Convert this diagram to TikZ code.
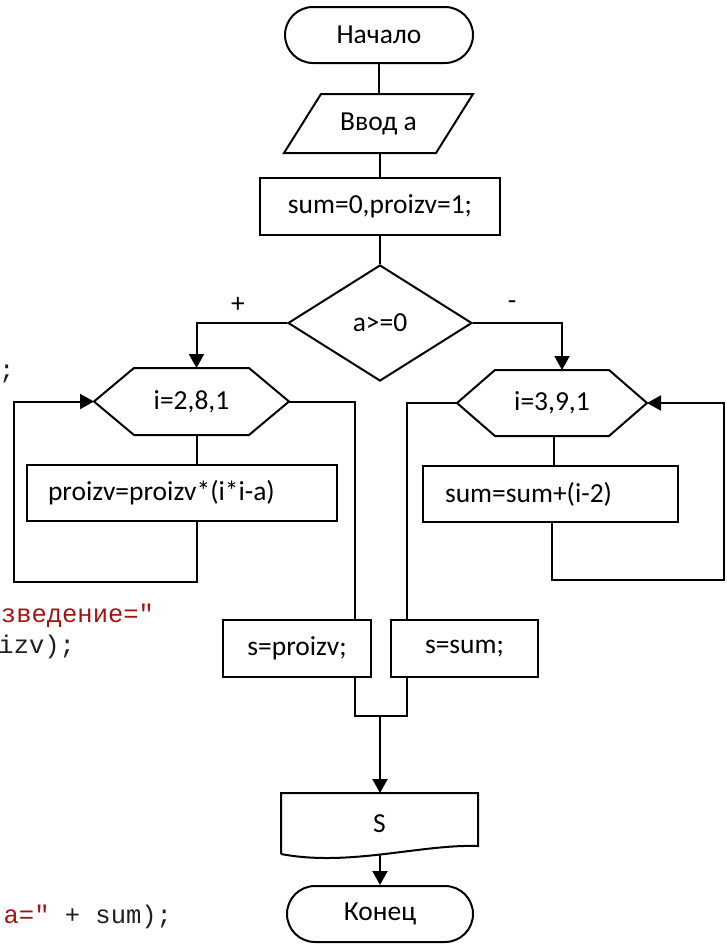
\documentclass[tikz,border=0pt]{standalone}
\usepackage{fontspec}
\setmainfont{Carlito}
\newfontfamily\codefont{Liberation Mono}
\usepackage{tikz}
\usetikzlibrary{shapes.geometric,shapes.misc}
\usetikzlibrary{arrows.meta}
\usepackage{xcolor}
\definecolor{strred}{RGB}{163,21,21}
\definecolor{codegray}{RGB}{30,30,30}

\tikzset{
  blk/.style={draw, rectangle, minimum height=57pt, inner sep=0pt},
  term/.style={draw, rounded rectangle, minimum width=188pt, minimum height=56pt, inner sep=0pt},
  decision/.style={draw, diamond, minimum width=184pt, minimum height=116pt, inner sep=0pt},
  bare/.style={rectangle, inner sep=0pt},
  code/.style={anchor=base east, inner sep=0pt, text=codegray, font=\codefont\fontsize{25.5}{30}\selectfont},
  arr/.style={-{Triangle[length=14pt,width=15pt]}}
}
% hexagon of a loop head round a bare node
\newcommand{\hexa}[2]{\draw (#1.west) -- ([xshift=#2]#1.north west) -- ([xshift=-#2]#1.north east)
  -- (#1.east) -- ([xshift=-#2]#1.south east) -- ([xshift=#2]#1.south west) -- cycle;}

\begin{document}
\begin{tikzpicture}[x=1pt, y=1pt, line width=2pt, font=\fontsize{27.5}{33}\selectfont]
    %\draw[step=50, gray, very thin] (0,0) grid (726,-945);
    \useasboundingbox (0,0) rectangle (726,-945);

    \node[term] (start) at (379,-35) {Начало};
    \node[bare, minimum width=187pt, minimum height=57pt] (input) at (378.5,-123.5) {Ввод а};
    \node[blk, minimum width=240pt] (init) at (380,-206.5) {sum=0,proizv=1;};
    \node[decision] (if) at (380,-323) {a>=0};
    \node (plus) at (238,-305) {+};
    \node (minus) at (512,-305) {-};

    \node[bare, minimum width=193pt, minimum height=65pt] (forL) at (191.5,-401.5) {i=2,8,1};
    \node[bare, minimum width=188pt, minimum height=64pt] (forR) at (552,-403) {i=3,9,1};
    \node[blk, minimum height=56pt, text width=268pt, inner xsep=21pt, align=left] (bodyL) at (182,-493) {proizv=proizv*(i*i-a)};
    \node[blk, minimum height=56pt, text width=211pt, inner xsep=22pt, align=left] (bodyR) at (550.5,-494) {sum=sum+(i-2)};

    \node[blk, minimum width=148pt] (setL) at (297,-648.5) {s=proizv;};
    \node[blk, minimum width=147pt] (setR) at (464.5,-648.5) {s=sum;};
    \node[bare, minimum width=195pt, minimum height=59pt] (out) at (379.5,-823.5) {S};
    \node[term, minimum width=186pt] (end) at (380,-914) {Конец};

    \coordinate (backL) at (14,-582);
    \coordinate (backR) at (724,-580);
    \coordinate (join) at (380,-716);

    % shapes drawn by hand
    \draw ([xshift=37pt]input.north west) -- (input.north east) -- ([xshift=-37pt]input.south east) -- (input.south west) -- cycle;
    \hexa{forL}{40pt}
    \hexa{forR}{38pt}
    \draw (out.south west) -- (out.north west) -- (out.north east) -- ([yshift=8pt]out.south east)
      .. controls ([xshift=-57pt,yshift=10pt]out.south east) and ([xshift=68pt,yshift=-13pt]out.south west) .. (out.south west);

    \begin{scope}
    \draw (start.south) -- (start.south |- input.north);
    \draw (init.north |- input.south) -- (init.north);
    \draw (init) -- (if);
    \draw[arr] (if.west) -| ([xshift=5pt]forL.north);
    \draw[arr] (if.east) -| ([xshift=10pt]forR.north);

    \draw ([xshift=5pt]forL.south) -- ([xshift=5pt]forL.south |- bodyL.north);
    \draw[arr] ([xshift=15pt]bodyL.south) |- (backL) |- (forL.west);
    \draw (forL.east) -| ([xshift=58pt]setL.north);

    \draw ([xshift=1.5pt]forR.south) -- ([xshift=1.5pt]forR.south |- bodyR.north);
    \draw[arr] ([xshift=1.5pt]bodyR.south) |- (backR) |- (forR.east);
    \draw (forR.west) -| ([xshift=-57.5pt]setR.north);

    \draw ([xshift=58pt]setL.south) |- (join) -| ([xshift=-57.5pt]setR.south);
    \draw[arr] (join) -- (join |- out.north);
    \draw[arr] (end.north |- out.south) -- (end.north);
    \end{scope}

    % code showing behind the chart
    \begin{scope}
    \node[code] (c1) at (15.5,-378) {;};
    \node[code, text=strred] (c2) at (155,-622) {зведение="};
    \node[code] (c3) at (76,-653) {izv);};
    \node[code] (c4) at (173,-923) {\textcolor{strred}{a="} + sum);};
    \end{scope}
\end{tikzpicture}
\end{document}
